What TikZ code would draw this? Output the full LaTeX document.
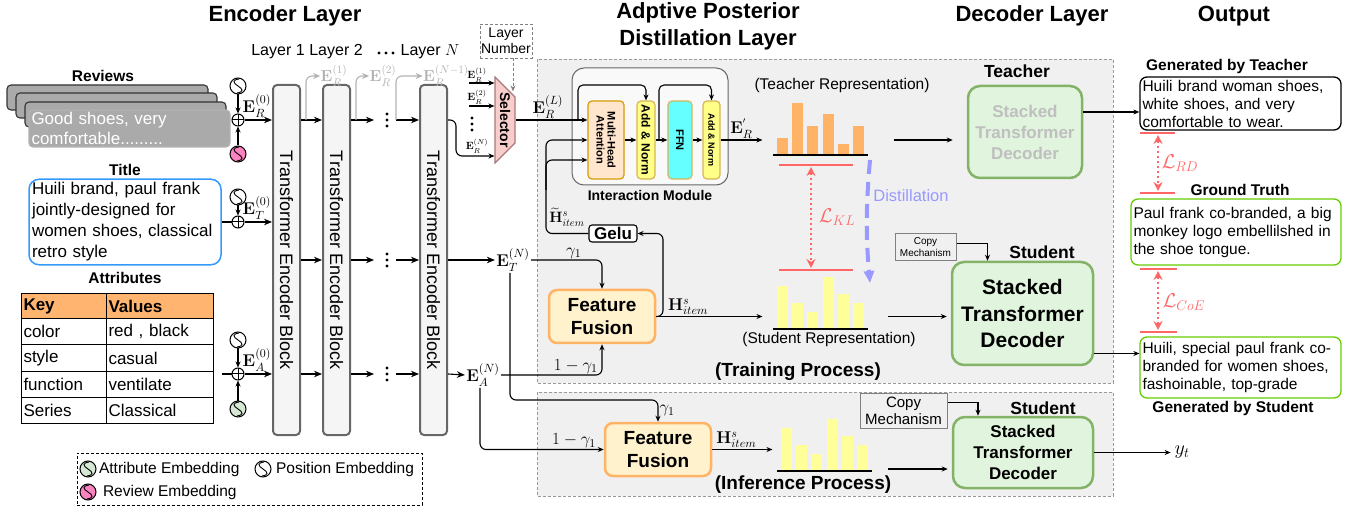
\documentclass[tikz,border=0pt]{standalone}
\usepackage{fix-cm}
\usepackage{graphicx}
\usepackage{amsmath}
\usepackage[no-math]{fontspec}
\setmainfont{Liberation Sans}
\usetikzlibrary{arrows.meta,positioning,shapes.geometric,calc}

\definecolor{revgray}{RGB}{170,170,170}
\definecolor{titleblue}{RGB}{51,153,255}
\definecolor{keyorange}{RGB}{255,181,112}
\definecolor{embgreen}{RGB}{213,232,212}
\definecolor{embpink}{RGB}{250,130,190}
\definecolor{blkfill}{RGB}{245,245,245}
\definecolor{blkdraw}{RGB}{102,102,102}
\definecolor{selfill}{RGB}{248,206,204}
\definecolor{seldraw}{RGB}{170,120,120}
\definecolor{regfill}{RGB}{240,240,240}
\definecolor{mhafill}{RGB}{255,230,204}
\definecolor{mhadraw}{RGB}{215,155,0}
\definecolor{anfill}{RGB}{255,255,136}
\definecolor{andraw}{RGB}{214,182,86}
\definecolor{ffnfill}{RGB}{102,255,255}
\definecolor{tbarfill}{RGB}{255,179,102}
\definecolor{sbarfill}{RGB}{255,255,153}
\definecolor{lossred}{RGB}{255,102,102}
\definecolor{distblue}{RGB}{153,153,255}
\definecolor{decfill}{RGB}{225,245,222}
\definecolor{decdraw}{RGB}{130,179,102}
\definecolor{fffill}{RGB}{255,242,204}
\definecolor{ffdraw}{RGB}{255,179,102}
\definecolor{gtgreen}{RGB}{102,204,0}

\tikzset{
  arr/.style={-{Stealth[length=8pt,width=6.5pt]}},
  sarr/.style={-{Stealth[length=6pt,width=5pt]}},
  garr/.style={draw=gray!60, rounded corners=6pt, -{Stealth[length=7pt,width=6pt]}},
  region/.style={draw=gray!80, fill=regfill, dash pattern=on 3pt off 2pt, line width=0.8pt},
  ttl/.style={font=\fontsize{22}{27}\selectfont\bfseries, align=center},
  hdr/.style={font=\fontsize{15.5}{18}\selectfont\bfseries},
  rolelab/.style={font=\fontsize{17.5}{20}\selectfont\bfseries},
  lbl/.style={font=\fontsize{16}{18}\selectfont, inner sep=1pt},
  mlab/.style={font=\fontsize{17}{19}\selectfont, inner sep=1pt},
  slab/.style={font=\fontsize{10.5}{12}\selectfont, inner sep=0pt},
  glab/.style={font=\fontsize{16}{18}\selectfont, text=gray!60, inner sep=0pt},
  embnode/.style={circle, draw, fill=#1, minimum size=16pt, inner sep=0pt, line width=1pt,
    path picture={\draw[line width=0.9pt] ([xshift=1pt,yshift=7pt]path picture bounding box.center)
      .. controls +(-7pt,-1pt) and +(-5pt,3pt) .. (path picture bounding box.center)
      .. controls +(5pt,-3pt) and +(7pt,1pt) .. ([xshift=-1pt,yshift=-7pt]path picture bounding box.center);}},
  embnode/.default=white,
  plusnode/.style={circle, draw, minimum size=12pt, inner sep=0pt, line width=1pt,
    path picture={\draw[line width=1pt] (path picture bounding box.north) -- (path picture bounding box.south)
      (path picture bounding box.west) -- (path picture bounding box.east);}},
  revcard/.style={draw=gray!60, fill=revgray, rounded corners=4pt, minimum width=201pt, minimum height=37pt,
    text width=196pt, inner xsep=2.5pt, inner ysep=0pt, align=left, text=white, font=\fontsize{17}{20}\selectfont},
  titlebox/.style={draw=titleblue, line width=1.5pt, rounded corners=10pt, minimum width=192pt, minimum height=80pt,
    text width=186pt, inner xsep=3pt, align=left, font=\fontsize{17}{21}\selectfont},
  cell/.style={draw, line width=1pt, minimum height=26.3pt, inner xsep=2pt, inner ysep=0pt, align=left,
    anchor=north west, font=\fontsize{17}{20}\selectfont},
  encblk/.style={draw=blkdraw, fill=blkfill, line width=2pt, rounded corners=4pt,
    minimum width=27pt, minimum height=350pt, inner sep=0pt, font=\fontsize{18}{20}\selectfont},
  inblk/.style={draw=#1, line width=1.2pt, rounded corners=4pt, minimum height=78pt, inner sep=0pt},
  decnode/.style={draw=decdraw, fill=decfill, line width=2.5pt, rounded corners=12pt, align=center},
  ffnode/.style={draw=ffdraw, fill=fffill, line width=2.5pt, rounded corners=8pt, minimum width=106pt,
    minimum height=53pt, align=center, font=\fontsize{19}{23}\selectfont\bfseries},
  copybox/.style={draw=gray, line width=1pt, align=center, inner sep=0pt},
  outbox/.style={draw=#1, line width=1.3pt, rounded corners=7pt, align=left, inner xsep=2.5pt, inner ysep=1pt,
    font=\fontsize{15.5}{18}\selectfont},
  lossbar/.style={draw=lossred, line width=2.2pt},
  lossarr/.style={draw=lossred, line width=2pt, dash pattern=on 2pt off 3pt,
    {Stealth[length=9pt,width=9pt]}-{Stealth[length=9pt,width=9pt]}},
  losslab/.style={text=lossred, font=\fontsize{20}{22}\selectfont, inner sep=0pt},
  distarr/.style={draw=distblue, line width=4pt, dash pattern=on 14pt off 8pt,
    -{Triangle[length=12pt,width=10pt]}},
}

\begin{document}
\begin{tikzpicture}[x=1pt, y=-1pt, line width=1.1pt]
  \useasboundingbox (0,0) rectangle (1357,510);

  %% process regions
  \filldraw[region] (537,59) rectangle (1113,383);
  \filldraw[region] (537,392) rectangle (1113,496);

  %% titles
  \node[ttl] (encTitle) at (285,16) {Encoder Layer};
  \node[ttl] (apdTitle) at (708,26) {Adptive Posterior\\Distillation Layer};
  \node[ttl] (decTitle) at (1032,16) {Decoder Layer};
  \node[ttl] (outTitle) at (1234,16) {Output};

  \node[lbl] (lay1) at (278,52) {Layer 1};
  \node[lbl] (lay2) at (336,52) {Layer 2};
  \foreach \d in {-7,0,7} \fill ({386+\d},53) circle (1.7pt);
  \node[lbl] (layN) at (430,52) {Layer $N$};
  \node[draw=gray, dash pattern=on 3pt off 2pt, line width=0.8pt, align=center, font=\fontsize{14}{16}\selectfont,
    minimum width=52pt, minimum height=34pt, inner sep=0pt] (lnum) at (506,41) {Layer\\Number};

  %% encoder blocks
  \node[encblk] (blk1) at (286.5,260) {\rotatebox{-90}{Transformer Encoder Block}};
  \node[encblk] (blk2) at (336.5,260) {\rotatebox{-90}{Transformer Encoder Block}};
  \node[encblk] (blkN) at (433.5,260) {\rotatebox{-90}{Transformer Encoder Block}};
  \coordinate (rowR) at (0,120);
  \coordinate (rowT) at (0,260);
  \coordinate (rowA) at (0,374);

  %% reviews
  \node[hdr] (revHdr) at (103,76) {Reviews};
  \foreach \dx/\dy in {0/85, 9/93, 18/102}
    \filldraw[fill=revgray, draw=black!80, rounded corners=4pt] ({7+\dx},\dy) rectangle ({208+\dx},{\dy+25});
  \node[revcard] (rev) at (129.5,128.5) {Good shoes, very\\comfortable.........};
  \node[embnode] (posR) at (238,86) {};
  \node[plusnode] (plusR) at (238,120) {};
  \node[embnode=embpink] (revE) at (238,154) {};
  \draw[sarr] (posR) -- (plusR);
  \draw[sarr] (revE) -- (plusR);
  \draw[arr] (plusR) -- (plusR -| blk1.west) node[mlab, above=1pt, pos=0.45] {$\mathbf{E}_R^{(0)}$};

  %% title
  \node[hdr] (titleHdr) at (125,170) {Title};
  \node[titlebox] (title) at (125,222) {Huili brand, paul frank\\jointly-designed for\\women shoes, classical\\retro style};
  \node[embnode] (posT) at (238,197) {};
  \node[plusnode] (plusT) at (238,222) {};
  \draw (title.east) -- (plusT);
  \draw[sarr] (posT) -- (plusT);
  \draw[arr] (plusT) -- (plusT -| blk1.west) node[mlab, above=1pt, pos=0.45] {$\mathbf{E}_T^{(0)}$};

  %% attributes
  \node[hdr] (attHdr) at (125,278) {Attributes};
  \node[cell, fill=keyorange, minimum height=25pt, text width=81pt] (keyH) at (21,293) {\textbf{Key}};
  \node[cell, fill=keyorange, minimum height=25pt, text width=103pt] (valH) at (106,293) {\textbf{Values}};
  \foreach \k/\v [count=\i from 0] in {color/{red , black}, style/casual, function/ventilate, Series/Classical} {
    \node[cell, text width=81pt] at (21,{318+26.3*\i}) {\k};
    \node[cell, text width=103pt] at (106,{318+26.3*\i}) {\v};
  }
  \node[embnode] (posA) at (238,340) {};
  \node[plusnode] (plusA) at (238,374) {};
  \node[embnode=embgreen] (attE) at (238,409) {};
  \coordinate (attIn) at (222,374);
  \draw (attIn) -- (plusA);
  \draw[sarr] (posA) -- (plusA);
  \draw[sarr] (attE) -- (plusA);
  \draw[arr] (plusA) -- (plusA -| blk1.west) node[mlab, above=1pt, pos=0.45] {$\mathbf{E}_A^{(0)}$};

  %% legend
  \node[draw, dash pattern=on 3pt off 2pt, line width=0.8pt, minimum width=345pt, minimum height=52pt] (legend) at (249.5,479) {};
  \node[embnode=embgreen] (lgA) at (88,469) {};
  \node[lbl, right=1pt of lgA, font=\fontsize{15.5}{18}\selectfont] {Attribute Embedding};
  \node[embnode] (lgP) at (263,469) {};
  \node[lbl, right=3pt of lgP, font=\fontsize{15.5}{18}\selectfont] {Position Embedding};
  \node[embnode=embpink] (lgR) at (88,492) {};
  \node[lbl, right=5pt of lgR, font=\fontsize{15.5}{18}\selectfont] {Review Embedding};

  %% layer to layer
  \foreach \r in {rowR,rowT,rowA} {
    \draw[arr] (blk1.east |- \r) -- (blk2.west |- \r);
    \draw[arr] (blk2.east |- \r) -- ++(23,0);
    \foreach \d in {-6,0,6} \fill ($(blk2.east |- \r)+(36,\d)$) circle (1.7pt);
    \draw[arr] ($(blkN.west |- \r)+(-23,0)$) -- (blkN.west |- \r);
  }
  \node[glab] (er1) at (334,76) {$\mathbf{E}_R^{(1)}$};
  \node[glab] (er2) at (383,76) {$\mathbf{E}_R^{(2)}$};
  \node[glab] (erN1) at (446,76) {$\mathbf{E}_R^{(N-1)}$};
  \draw[garr] ($(blk1.east |- rowR)+(5,0)$) |- (er1.west);
  \draw[garr] ($(blk2.east |- rowR)+(5,0)$) |- (er2.west);
  \draw[garr] ($(blkN.west |- rowR)+(-23,0)$) |- (erN1.west);

  %% selector
  \filldraw[fill=selfill, draw=seldraw, line width=1.2pt] (495,77) -- (515,97) -- (515,143) -- (495,163) -- cycle;
  \node[minimum width=20pt, minimum height=86pt, inner sep=0pt, font=\fontsize{14}{16}\selectfont\bfseries] (sel) at (505,120) {\rotatebox{-90}{Selector}};
  \node[slab] (selE1) at (477,75) {$\mathbf{E}_R^{(1)}$};
  \node[slab] (selE2) at (477,97) {$\mathbf{E}_R^{(2)}$};
  \node[slab] (selEN) at (477,146) {$\mathbf{E}_R^{(N)}$};
  \foreach \d in {-6,0,6} \fill (472,{124+\d}) circle (1.6pt);
  \coordinate (selIn1) at (469,83);
  \coordinate (selIn2) at (469,106);
  \coordinate (selInN) at (456,156);
  \draw[sarr] (selIn1) -- (selIn1 -| sel.west);
  \draw[sarr] (selIn2) -- (selIn2 -| sel.west);
  \draw[sarr, rounded corners=6pt] (blkN.east |- rowR) -| (selInN) -- (selInN -| sel.west);
  \draw[sarr, draw=gray, dash pattern=on 3pt off 2pt, line width=0.9pt] ([xshift=7pt]lnum.south) -- ++(0,33);

  %% interaction module
  \node[draw=black!60, fill=gray!5, rounded corners=12pt, minimum width=156pt, minimum height=117pt, line width=1pt] (im) at (650,126.5) {};
  \node[font=\fontsize{14}{16}\selectfont\bfseries, below=1pt of im] (imLabel) {Interaction Module};
  \node[inblk=mhadraw, fill=mhafill, minimum width=36pt, font=\fontsize{11}{13}\selectfont\bfseries] (mha) at (606,140) {\rotatebox{-90}{\shortstack{Multi-Head\\Attention}}};
  \node[inblk=andraw, fill=anfill, minimum width=18pt, font=\fontsize{12}{14}\selectfont\bfseries] (an1) at (646,140) {\rotatebox{-90}{Add \& Norm}};
  \node[inblk=andraw, fill=ffnfill, minimum width=24pt, font=\fontsize{11}{13}\selectfont\bfseries] (ffn) at (680,140) {\rotatebox{-90}{FFN}};
  \node[inblk=andraw, fill=anfill, minimum width=17pt, font=\fontsize{9}{11}\selectfont\bfseries] (an2) at (711.5,140) {\rotatebox{-90}{Add \& Norm}};
  \draw[sarr] (sel.east) -- (sel.east -| mha.west) node[mlab, above, pos=0.45] {$\mathbf{E}_R^{(L)}$};
  \draw[sarr] (mha) -- (an1);
  \draw[sarr] (an1) -- (ffn);
  \draw[sarr] (ffn) -- (an2);
  \coordinate (resA) at (578,120);
  \coordinate (resB) at (659,140);
  \draw[sarr, rounded corners=5pt] (resA) -- (578,85) -| (an1.north);
  \draw[sarr, rounded corners=5pt] (resB) -- (659,85) -| (an2.north);

  %% gelu feedback
  \node[draw, fill=white, rounded corners=3pt, minimum width=48pt, minimum height=17pt, inner sep=0pt,
    font=\fontsize{17}{19}\selectfont\bfseries] (gelu) at (613,233.5) {Gelu};
  \node[mlab, font=\fontsize{15}{17}\selectfont, inner sep=0pt] (hTilde) at (567,217) {$\widetilde{\mathbf{H}}^{s}_{item}$};
  \draw[sarr, rounded corners=6pt] (gelu.west) -- (546,233.5) -- (546,140) -- (mha.west);
  \draw[sarr, rounded corners=6pt] (546,190) -- (546,160) -- ([yshift=-20pt]mha.west);

  %% teacher representation
  \node[minimum width=130pt, minimum height=40pt, inner sep=0pt] (trep) at (828,140) {};
  \foreach \h [count=\i from 0] in {16,51,28,40,10,28}
    \fill[tbarfill] ({777+15.2*\i},154) rectangle ++(11,-\h);
  \draw[line width=2.5pt] (773,155) -- (868,155);
  \node[font=\fontsize{15.5}{18}\selectfont] (trepLabel) at (842,85) {(Teacher Representation)};
  \draw[sarr] (an2.east) -- (an2.east -| trep.west) node[mlab, above, midway] {$\mathbf{E}_R^{'}$};

  %% student representation
  \node[minimum width=124pt, minimum height=40pt, inner sep=0pt] (srep) at (825,316.5) {};
  \foreach \h [count=\i from 0] in {42,25,16,51,34,25}
    \fill[sbarfill] ({777+15.2*\i},328) rectangle ++(11,-\h);
  \draw[line width=2.5pt] (773,329) -- (868,329);
  \node[font=\fontsize{15.5}{18}\selectfont] (srepLabel) at (829,339) {(Student Representation)};

  %% distillation
  \draw[lossbar] (779,165) -- (853,165);
  \draw[lossbar] (779,270) -- (853,270);
  \draw[lossarr] (811,167) -- (811,268);
  \node[losslab] (lkl) at (837,217) {$\mathcal{L}_{KL}$};
  \draw[distarr] (870,160) to[bend right=5] (870,283);
  \node[text=distblue, font=\fontsize{16.5}{18}\selectfont] (distLabel) at (911,196) {Distillation};

  %% decoders
  \node[rolelab] (teacherLab) at (1017,71) {Teacher};
  \node[decnode, minimum width=114pt, minimum height=92pt, text=gray!50, font=\fontsize{17}{21}\selectfont\bfseries] (tdec) at (1025,132) {Stacked\\Transformer\\Decoder};
  \node[rolelab] (studentLab) at (1042,252) {Student};
  \node[decnode, minimum width=141pt, minimum height=103pt, font=\fontsize{21}{26.5}\selectfont\bfseries] (sdec) at (1022.5,313.5) {Stacked\\Transformer\\Decoder};
  \node[copybox, minimum width=61pt, minimum height=27pt, font=\fontsize{10}{12}\selectfont] (cmT) at (925.5,247.5) {Copy\\Mechanism};
  \draw[sarr, shorten >=14pt] (trep.east) -- (trep.east -| tdec.west);
  \draw[sarr, shorten >=4pt] (srep.east) -- (srep.east -| sdec.west);
  \draw[sarr] ([yshift=4pt]cmT.east) -| ([xshift=-35pt]sdec.north);

  %% feature fusion (training)
  \node[ffnode] (ffT) at (602,316.5) {Feature\\Fusion};
  \node[mlab] (ETN) at (513,260) {$\mathbf{E}_T^{(N)}$};
  \node[mlab] (EAN) at (483,375) {$\mathbf{E}_A^{(N)}$};
  \draw[arr] (blkN.east |- rowT) -- (ETN.west);
  \draw[arr] (blkN.east |- rowA) -- (EAN.west);
  \draw[sarr, rounded corners=6pt] (ETN.east) -| (ffT.north) node[mlab, pos=0.3, above] {$\gamma_1$};
  \draw[sarr, rounded corners=6pt] (EAN.east) -| (ffT.south) node[mlab, pos=0.37, above] {$1-\gamma_1$};
  \draw[sarr] (ffT.east) -- (ffT.east -| srep.west) node[mlab, pos=0.3, above] {$\mathbf{H}^{s}_{item}$};
  \draw[sarr, rounded corners=6pt] (ffT.east) -- (663,316.5) |- (gelu.east);
  \node[font=\fontsize{19}{22}\selectfont\bfseries] (trainLab) at (798,372) {(Training Process)};

  %% inference
  \node[ffnode] (ffI) at (658,449.5) {Feature\\Fusion};
  \node[minimum width=114pt, minimum height=30pt, inner sep=0pt] (irep) at (830,469) {};
  \foreach \h [count=\i from 0] in {42,25,16,51,34,25}
    \fill[sbarfill] ({781+15.2*\i},470) rectangle ++(11,-\h);
  \draw[line width=2.5pt] (777,471) -- (872,471);
  \node[font=\fontsize{19}{22}\selectfont\bfseries] (infLab) at (803,485) {(Inference Process)};
  \node[copybox, minimum width=87pt, minimum height=35pt, font=\fontsize{15}{17}\selectfont] (cmI) at (903.5,410.5) {Copy\\Mechanism};
  \node[rolelab] (studentLabI) at (1043,408) {Student};
  \node[decnode, minimum width=140pt, minimum height=71pt, font=\fontsize{17}{21}\selectfont\bfseries] (idec) at (1023,452.5) {Stacked\\Transformer\\Decoder};
  \node[font=\fontsize{20}{22}\selectfont] (yt) at (1182,452.5) {$y_t$};
  \draw[sarr, rounded corners=6pt] ([xshift=-3pt]ETN.south) -- (510,400) -| (ffI.north) node[mlab, pos=0.75, right] {$\gamma_1$};
  \draw[sarr, rounded corners=6pt] ([xshift=-3pt]EAN.south) |- (ffI.west) node[mlab, pos=0.88, above] {$1-\gamma_1$};
  \draw[sarr] (ffI.east) -- (ffI.east -| irep.west) node[mlab, pos=0.4, above] {$\mathbf{H}^{s}_{item}$};
  \draw[sarr, shorten >=4pt] (irep.east) -- (irep.east -| idec.west);
  \draw[sarr] ([yshift=8pt]cmI.east) -| ([xshift=-45pt]idec.north);
  \draw[sarr] (idec.east) -- (yt.west);

  %% output
  \node[hdr] (genT) at (1227,66) {Generated by Teacher};
  \node[outbox=black, minimum height=53pt, text width=196pt] (tout) at (1240.5,103.5) {Huili brand woman shoes,\\white shoes, and very\\comfortable to wear.};
  \node[hdr] (gtHdr) at (1240,190) {Ground Truth};
  \node[outbox=gtgreen, minimum height=66pt, text width=205pt] (gt) at (1236,232) {Paul frank co-branded, a big\\monkey logo embellilshed in\\the shoe tongue.};
  \node[outbox=gtgreen, minimum height=61pt, text width=196pt] (sout) at (1240.5,367.5) {Huili, special paul frank co-\\branded for women shoes,\\fashoinable, top-grade};
  \node[hdr] (genS) at (1233,408) {Generated by Student};
  \draw[sarr] ([yshift=20pt]tdec.east) -- ([yshift=20pt]tdec.east -| tout.west);
  \draw[sarr] ([yshift=-40pt]sdec.east) -- ([yshift=-40pt]sdec.east -| sout.west);

  %% output losses
  \draw[lossbar] (1140,133) -- (1175,133);
  \draw[lossbar] (1140,193) -- (1175,193);
  \draw[lossarr] (1158,135) -- (1158,191);
  \node[losslab, anchor=west] (lrd) at (1161,163) {$\mathcal{L}_{RD}$};
  \draw[lossbar] (1140,269) -- (1177,269);
  \draw[lossbar] (1140,332) -- (1177,332);
  \draw[lossarr] (1158,271) -- (1158,330);
  \node[losslab, anchor=west] (lcoe) at (1162,302) {$\mathcal{L}_{CoE}$};
\end{tikzpicture}
\end{document}
